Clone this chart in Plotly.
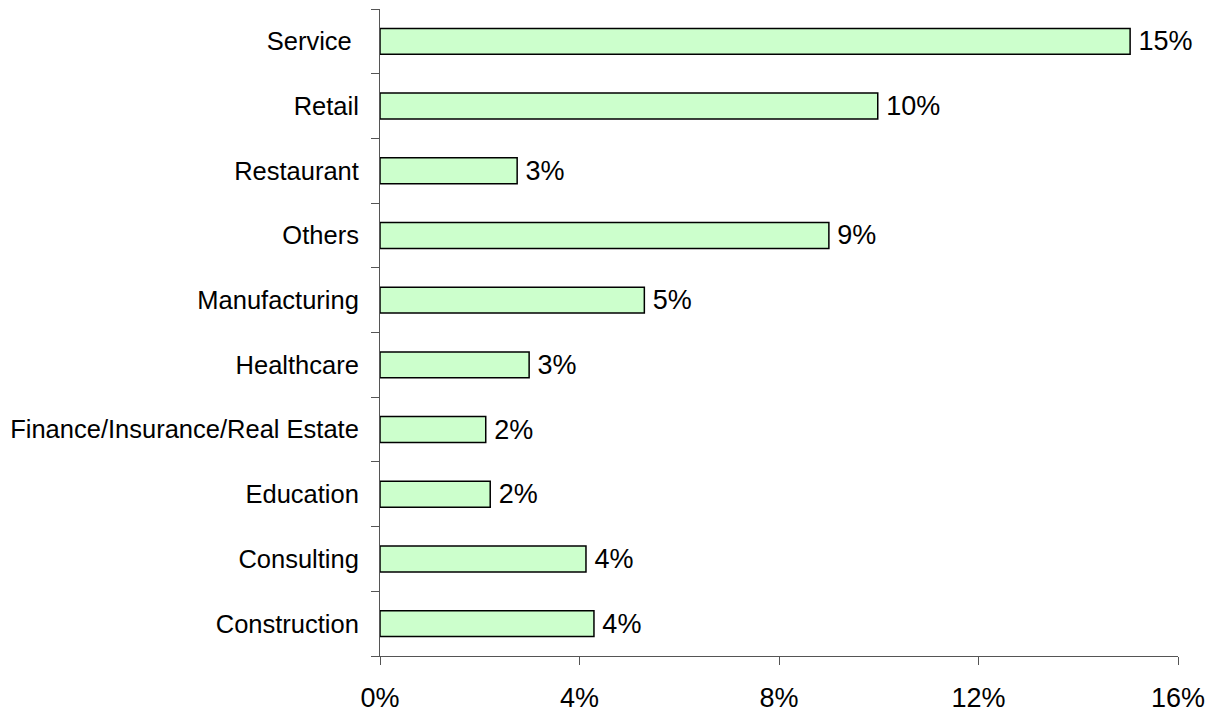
import plotly.graph_objects as go

# Share of respondents by industry (percent), listed bottom to top
industries = [
    "Construction",
    "Consulting",
    "Education",
    "Finance/Insurance/Real Estate",
    "Healthcare",
    "Manufacturing",
    "Others",
    "Restaurant",
    "Retail",
    "Service\u00a0",
]
shares = [4.29, 4.13, 2.21, 2.12, 2.99, 5.3, 9.0, 2.75, 9.98, 15.04]

x_ticks = [0, 4, 8, 12, 16]
x_tick_labels = ["0%", "4%", "8%", "12%", "16%"]

FONT = "Liberation Sans, Arial, sans-serif"

fig = go.Figure(
    go.Bar(
        x=shares,
        y=industries,
        orientation="h",
        marker=dict(color="#CCFFCC", line=dict(color="#000000", width=1.5)),
        texttemplate="\u2009%{x:.0f}%",
        textposition="outside",
        constraintext="none",
        textfont=dict(family=FONT, size=27, color="#000000"),
        cliponaxis=False,
        hoverinfo="skip",
    )
)

fig.update_layout(
    template="none",
    width=1216,
    height=712,
    margin=dict(l=380, r=38, t=9, b=56),
    plot_bgcolor="#FFFFFF",
    paper_bgcolor="#FFFFFF",
    bargap=0.6,
    showlegend=False,
    font=dict(family=FONT, color="#000000"),
    uniformtext=dict(mode=False),
)

fig.update_xaxes(
    range=[0, 16],
    tickvals=x_ticks,
    ticktext=x_tick_labels,
    automargin=False,
    showgrid=False,
    zeroline=False,
    showline=True,
    linecolor="#555555",
    linewidth=1,
    ticks="outside",
    ticklen=8,
    tickcolor="#555555",
    tickfont=dict(family=FONT, size=27, color="#000000"),
    ticklabelstandoff=10,
    fixedrange=True,
)

fig.update_yaxes(
    type="category",
    categoryorder="array",
    categoryarray=industries,
    automargin=False,
    showgrid=False,
    zeroline=False,
    showline=True,
    linecolor="#555555",
    linewidth=1,
    ticks="outside",
    tickson="boundaries",
    ticklen=8,
    tickcolor="#555555",
    tickfont=dict(family=FONT, size=25.5, color="#000000"),
    ticklabelstandoff=15,
    fixedrange=True,
)

fig.write_html("out.html")
